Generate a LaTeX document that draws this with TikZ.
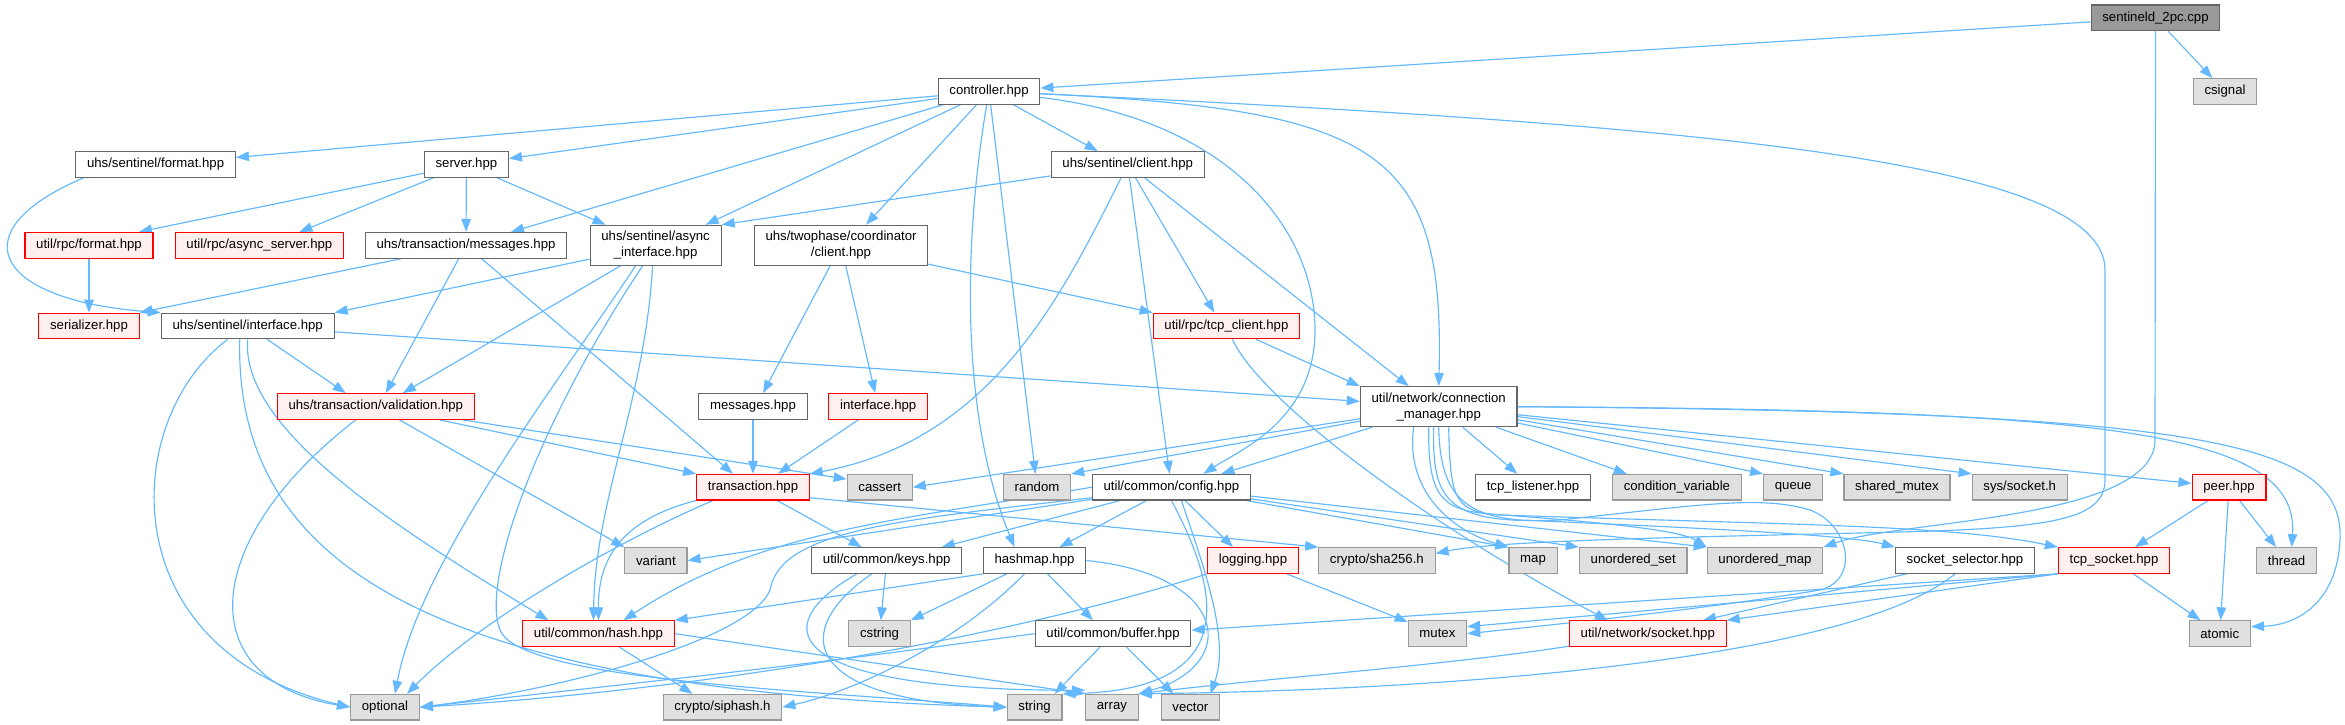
\documentclass[tikz,border=0pt]{standalone}
\usepackage{fontspec}
\setmainfont{Liberation Sans}
\usetikzlibrary{arrows.meta}
\pgfdeclarelayer{background}
\pgfsetlayers{background,main}
\definecolor{inclblue}{HTML}{63B8FF}
\definecolor{hdrline}{HTML}{666666}
\definecolor{sysfill}{HTML}{E0E0E0}
\definecolor{sysline}{HTML}{999999}
\definecolor{cutfill}{HTML}{FFF0F0}
\definecolor{srcfill}{HTML}{999999}
\tikzset{
  hdr/.style={draw=hdrline, fill=white, line width=0.32pt, inner xsep=3.2pt, inner ysep=0pt,
    minimum height=0.256cm, font=\fontsize{3.75}{4.6}\selectfont, align=center},
  syshdr/.style={hdr, draw=sysline, fill=sysfill},
  cuthdr/.style={hdr, draw=red, fill=cutfill},
  srchdr/.style={hdr, fill=srcfill},
  twoline/.style={minimum height=0.4cm},
  incl/.style={draw=inclblue, line width=0.33pt, -{Triangle[length=3.7pt,width=2.7pt]}}
}
\begin{document}
\begin{tikzpicture}[x=0.01cm, y=-0.01cm]
 \useasboundingbox (0,0) rectangle (2345,725);
 \node[srchdr] (root) at (2155.5,17.8) {sentineld\_2pc.cpp};
 \node[syshdr] (csignal) at (2225,91.5) {csignal};
 \node[hdr] (ctrl) at (989,91.3) {controller.hpp};
 \node[hdr] (sfmt) at (155.6,164.5) {uhs/sentinel/format.hpp};
 \node[hdr] (srv) at (466.4,164.5) {server.hpp};
 \node[hdr] (sclient) at (1127.7,164.5) {uhs/sentinel/client.hpp};
 \node[cuthdr] (rfmt) at (89,245.3) {util/rpc/format.hpp};
 \node[cuthdr] (rasync) at (259.4,245.3) {util/rpc/async\_server.hpp};
 \node[hdr] (tmsg) at (466,245.3) {uhs/transaction/messages.hpp};
 \node[hdr, twoline] (sasync) at (655.6,245.3) {uhs/sentinel/async\\\_interface.hpp};
 \node[hdr, twoline] (coord) at (841,245.3) {uhs/twophase/coordinator\\/client.hpp};
 \node[cuthdr] (ser) at (89,326) {serializer.hpp};
 \node[hdr] (siface) at (247.7,326) {uhs/sentinel/interface.hpp};
 \node[cuthdr] (tcpcl) at (1226.4,326) {util/rpc/tcp\_client.hpp};
 \node[cuthdr] (valid) at (375.8,406.5) {uhs/transaction/validation.hpp};
 \node[hdr] (cmsg) at (753,406.5) {messages.hpp};
 \node[cuthdr] (ciface) at (878.2,406.5) {interface.hpp};
 \node[hdr, twoline] (connmgr) at (1438.7,406.7) {util/network/connection\\\_manager.hpp};
 \node[cuthdr] (tx) at (753,487.2) {transaction.hpp};
 \node[syshdr] (cassert) at (879.7,487.2) {cassert};
 \node[syshdr] (random) at (1037,487.2) {random};
 \node[hdr] (config) at (1171.4,487.2) {util/common/config.hpp};
 \node[hdr] (tcplst) at (1533,487.2) {tcp\_listener.hpp};
 \node[syshdr] (condvar) at (1676.9,487.2) {condition\_variable};
 \node[syshdr] (queue) at (1793.2,487.2) {queue};
 \node[syshdr] (shmutex) at (1897,487.2) {shared\_mutex};
 \node[syshdr] (syssock) at (2019.7,487.2) {sys/socket.h};
 \node[cuthdr] (peer) at (2229,487.2) {peer.hpp};
 \node[syshdr] (variant) at (655.9,560.5) {variant};
 \node[hdr] (keys) at (886.7,560.5) {util/common/keys.hpp};
 \node[hdr] (hashmap) at (1034.5,560.5) {hashmap.hpp};
 \node[cuthdr] (logging) at (1253,560.5) {logging.hpp};
 \node[syshdr] (sha) at (1376.9,560.5) {crypto/sha256.h};
 \node[syshdr] (map) at (1533,560.5) {map};
 \node[syshdr] (uset) at (1633.2,560.5) {unordered\_set};
 \node[syshdr] (umap) at (1765,560.5) {unordered\_map};
 \node[hdr] (sel) at (1965,560.5) {socket\_selector.hpp};
 \node[cuthdr] (tcpsock) at (2114,560.5) {tcp\_socket.hpp};
 \node[syshdr] (thread) at (2286.6,560.5) {thread};
 \node[cuthdr] (hash) at (598.5,633.7) {util/common/hash.hpp};
 \node[syshdr] (cstring) at (879.5,633.7) {cstring};
 \node[hdr] (buffer) at (1113,633.7) {util/common/buffer.hpp};
 \node[syshdr] (mutex) at (1437.4,633.7) {mutex};
 \node[cuthdr] (nsock) at (1647.8,633.7) {util/network/socket.hpp};
 \node[syshdr] (atomic) at (2219.8,633.7) {atomic};
 \node[syshdr] (optional) at (385,707.2) {optional};
 \node[syshdr] (siphash) at (722.5,707.2) {crypto/siphash.h};
 \node[syshdr] (string) at (1034.6,707.2) {string};
 \node[syshdr] (array) at (1111.9,707.2) {array};
 \node[syshdr] (vector) at (1190.4,707.2) {vector};
 \begin{pgfonlayer}{background}
 \draw[incl] (root) -- (ctrl);
 \draw[incl] (root) -- (csignal);
 \draw[incl] (root.south) -- (2155,440) .. controls (2155,520) and (1900,520) .. (umap.north east);
 \draw[incl] (ctrl) -- (sfmt);
 \draw[incl] (ctrl) -- (srv);
 \draw[incl] (ctrl) -- ([xshift=0.45cm]tmsg.north);
 \draw[incl] (ctrl) -- ([xshift=0.5cm]sasync.north);
 \draw[incl] (ctrl) -- ([xshift=0.25cm]coord.north);
 \draw[incl] (ctrl) -- ([xshift=-0.3cm]sclient.north);
 \draw[incl] (ctrl) .. controls (962,250) and (962,420) .. ([xshift=-0.2cm]hashmap.north);
 \draw[incl] (ctrl) -- (random);
 \draw[incl] (ctrl) .. controls (1230,120) and (1315,230) .. (1315,330) .. controls (1315,420) and (1240,450) .. ([xshift=0.32cm]config.north);
 \draw[incl] (ctrl) .. controls (1380,110) and (1445,150) .. (connmgr.north);
 \draw[incl] (ctrl) .. controls (1700,125) and (2105,160) .. (2105,270) -- (2105,480) .. controls (2105,520) and (2050,528) .. (1900,532) .. controls (1700,537) and (1500,540) .. ([yshift=2pt]sha.east);
 \draw[incl] (sclient) -- (sasync.north east);
 \draw[incl] (sclient) .. controls (1060,300) and (990,440) .. (tx.north east);
 \draw[incl] (sclient) -- (config);
 \draw[incl] (sclient) -- ([xshift=-0.12cm]tcpcl.north);
 \draw[incl] (sclient) -- ([xshift=-0.3cm]connmgr.north);
 \draw[incl] (srv) -- ([xshift=0.5cm]rfmt.north);
 \draw[incl] (srv) -- ([xshift=0.4cm]rasync.north);
 \draw[incl] (srv) -- (tmsg);
 \draw[incl] (srv) -- ([xshift=-0.5cm]sasync.north);
 \draw[incl] ([xshift=-0.72cm]sfmt.south) .. controls (-40,230) and (-10,300) .. (siface.north west);
 \draw[incl] (rfmt) -- (ser);
 \draw[incl] (tmsg) -- (ser.north east);
 \draw[incl] (tmsg) -- ([xshift=0.1cm]valid.north);
 \draw[incl] (tmsg) -- ([xshift=-0.2cm]tx.north);
 \draw[incl] (sasync) -- (siface.north east);
 \draw[incl] (sasync) -- ([xshift=0.27cm]valid.north);
 \draw[incl] ([xshift=-0.2cm]sasync.south) .. controls (560,380) and (420,560) .. ([xshift=0.1cm]optional.north);
 \draw[incl] ([xshift=-0.13cm]sasync.south) .. controls (540,420) and (480,580) .. (500,630) .. controls (520,680) and (800,690) .. (string.west);
 \draw[incl] ([xshift=-0.03cm]sasync.south) .. controls (645,400) and (595,500) .. ([xshift=-0.05cm]hash.north);
 \draw[incl] ([xshift=-0.2cm]siface.south) .. controls (120,420) and (110,650) .. (optional.west);
 \draw[incl] (siface.south) .. controls (240,430) and (400,530) .. ([xshift=-0.5cm]hash.north);
 \draw[incl] ([xshift=-0.08cm]siface.south) .. controls (235,560) and (420,690) .. (string.west);
 \draw[incl] (siface) -- ([xshift=-0.3cm]valid.north);
 \draw[incl] (siface) -- (connmgr);
 \draw[incl] (coord) -- ([xshift=0.1cm]cmsg.north);
 \draw[incl] (coord) -- (ciface);
 \draw[incl] (coord) -- (tcpcl.north west);
 \draw[incl] (tcpcl) -- (connmgr.north west);
 \draw[incl] (tcpcl) .. controls (1260,400) and (1420,520) .. ([xshift=-0.4cm]nsock.north);
 \draw[incl] ([xshift=-0.2cm]valid.south) .. controls (200,540) and (190,680) .. (optional.west);
 \draw[incl] (valid) -- (variant.north west);
 \draw[incl] (valid) -- (tx.north west);
 \draw[incl] (valid) -- ([yshift=-1.5pt]cassert.north west);
 \draw[incl] (cmsg) -- (tx);
 \draw[incl] (ciface) -- ([xshift=0.25cm]tx.north);
 \draw[incl] ([xshift=-0.4cm]tx.south) .. controls (620,540) and (480,620) .. ([xshift=0.22cm]optional.north);
 \draw[incl] (tx.south west) .. controls (620,520) and (598,560) .. (hash.north);
 \draw[incl] (tx) -- ([xshift=-0.25cm]keys.north);
 \draw[incl] ([yshift=-3pt]tx.east) -- (sha.north west);
 \draw[incl] (keys) -- (cstring);
 \draw[incl] ([xshift=-0.15cm]keys.south) .. controls (790,630) and (800,700) .. (string.west);
 \draw[incl] ([xshift=-0.3cm]keys.south) .. controls (760,630) and (790,690) .. ([yshift=1pt]array.north west);
 \draw[incl] (hashmap.south west) -- (hash.north east);
 \draw[incl] (hashmap) -- (cstring.north east);
 \draw[incl] ([xshift=-0.1cm]hashmap.south) .. controls (960,640) and (860,690) .. (siphash.east);
 \draw[incl] (hashmap) -- ([xshift=-0.2cm]buffer.north);
 \draw[incl] (hashmap.east) .. controls (1230,575) and (1240,665) .. (array.north east);
 \draw[incl] (logging) -- (mutex);
 \draw[incl] (logging.south west) .. controls (1000,640) and (700,690) .. (optional.east);
 \draw[incl] (buffer) -- ([xshift=0.2cm]string.north);
 \draw[incl] (buffer) -- ([xshift=-0.17cm]vector.north);
 \draw[incl] (buffer.west) .. controls (800,665) .. (optional.east);
 \draw[incl] (hash) -- ([xshift=-0.3cm]siphash.north);
 \draw[incl] (hash.east) -- (array.north west);
 \draw[incl] (nsock) .. controls (1450,665) and (1250,680) .. (array.north east);
 \draw[incl] (sel) -- ([xshift=0.55cm]nsock.north);
 \draw[incl] ([xshift=-0.1cm]sel.south) .. controls (1850,660) and (1450,690) .. (array.north east);
 \draw[incl] (tcpsock.south west) -- (nsock.north east);
 \draw[incl] (tcpsock) -- (atomic);
 \draw[incl] (tcpsock.south west) -- ([yshift=1pt]buffer.east);
 \draw[incl] (tcpsock.south west) -- ([yshift=2pt]mutex.east);
 \draw[incl] (peer) -- (tcpsock);
 \draw[incl] (peer) -- (atomic);
 \draw[incl] (peer) -- (thread);
 \draw[incl] (connmgr) -- (cassert.east);
 \draw[incl] (connmgr) -- (random.north east);
 \draw[incl] (connmgr) -- ([xshift=0.5cm]config.north);
 \draw[incl] (connmgr) -- (tcplst);
 \draw[incl] (connmgr) -- ([xshift=-0.5cm]condvar.north);
 \draw[incl] (connmgr) -- (queue.north west);
 \draw[incl] (connmgr) -- (shmutex.north west);
 \draw[incl] (connmgr) -- (syssock.north west);
 \draw[incl] (connmgr) -- (peer);
 \draw[incl] (connmgr.east) .. controls (2100,410) and (2300,430) .. ([xshift=0.05cm]thread.north);
 \draw[incl] (connmgr.east) .. controls (2200,412) and (2345,440) .. (2340,540) .. controls (2337,600) and (2300,625) .. ([yshift=2pt]atomic.east);
 \draw[incl] ([xshift=-0.25cm]connmgr.south) .. controls (1405,490) and (1450,530) .. (map.north west);
 \draw[incl] ([xshift=-0.1cm]connmgr.south) .. controls (1428,495) and (1440,510) .. (1490,514) .. controls (1600,522) and (1680,530) .. (umap.north west);
 \draw[incl] (connmgr.south) .. controls (1440,490) and (1460,515) .. (1520,520) .. controls (1700,528) and (1850,535) .. (sel.north west);
 \draw[incl] ([xshift=0.1cm]connmgr.south) .. controls (1450,500) and (1455,512) .. (1500,515) .. controls (1800,525) and (1950,525) .. (tcpsock.north west);
 \draw[incl] ([xshift=-0.05cm]connmgr.south) .. controls (1432,500) and (1445,525) .. (1560,520) .. controls (1700,505) and (1760,495) .. (1810,510) .. controls (1850,525) and (1860,580) .. (1820,590) .. controls (1700,610) and (1550,625) .. (mutex.east);
 \draw[incl] (config) -- (variant.east);
 \draw[incl] (config.west) .. controls (900,520) and (760,530) .. ([xshift=0.25cm]hash.north);
 \draw[incl] ([yshift=-3pt]config.west) .. controls (900,520) and (780,530) .. (770,590) .. controls (750,640) and (560,690) .. (optional.east);
 \draw[incl] (config) -- ([xshift=0.55cm]keys.north);
 \draw[incl] (config) -- ([xshift=0.25cm]hashmap.north);
 \draw[incl] (config) -- ([xshift=-0.2cm]logging.north);
 \draw[incl] (config.south) .. controls (1225,600) and (1235,690) .. (string.north east);
 \draw[incl] ([xshift=0.1cm]config.south) .. controls (1205,570) and (1230,640) .. ([xshift=0.2cm]vector.north);
 \draw[incl] (config) -- (map.north west);
 \draw[incl] (config) -- (uset.north west);
 \draw[incl] (config) -- (umap.north west);
 \end{pgfonlayer}
\end{tikzpicture}
\end{document}
